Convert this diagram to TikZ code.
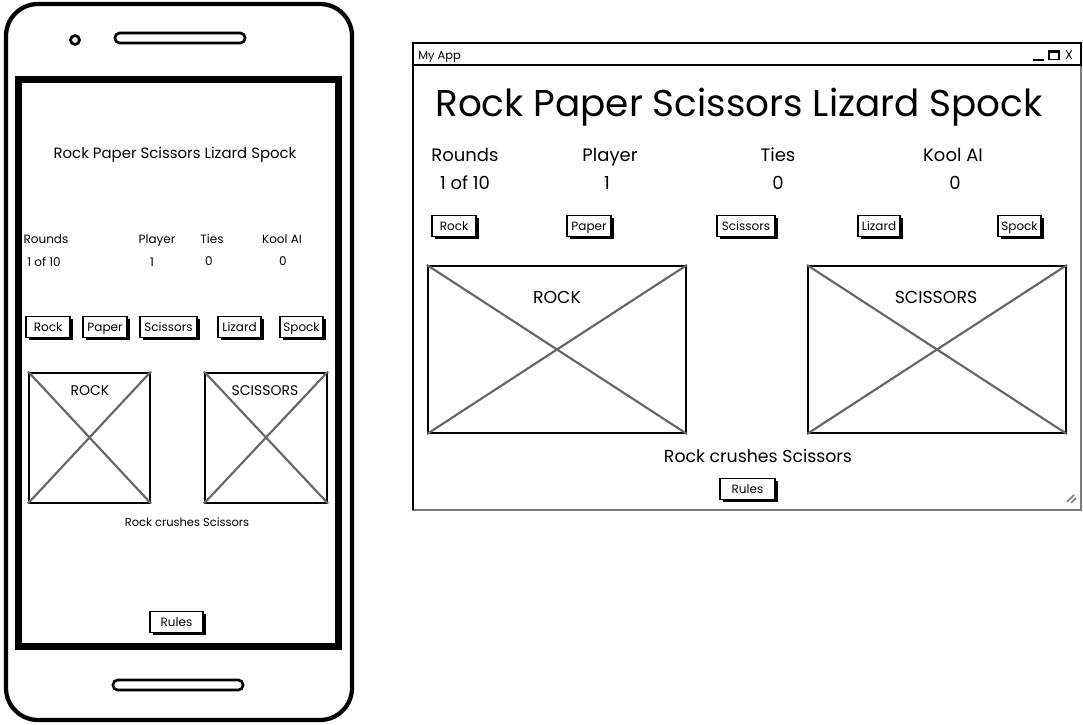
\documentclass[tikz,border=0pt]{standalone}
\usepackage{fontspec}
\setmainfont{Poppins}
\usetikzlibrary{shadows}
\definecolor{crossgray}{HTML}{666666}
\definecolor{wingray}{HTML}{7A7A7A}
\tikzset{
  btn/.style={draw=black, fill=white, line width=0.8pt, inner sep=0pt,
    minimum width=#1*0.75pt, minimum height=21*0.75pt,
    text height=0.8em, text depth=0.16em,
    drop shadow={shadow xshift=2pt, shadow yshift=-2pt, fill=black, opacity=1},
    font=\fontsize{9}{10}\selectfont},
  imgbox/.style={draw=black, line width=1.5pt, inner sep=0pt, fill=white},
  cross/.style={draw=crossgray, line width=1.6pt},
  txt/.style={inner sep=0pt, anchor=center, text height=0.92em, text depth=0em},
}
\begin{document}
\begin{tikzpicture}[x=0.75pt, y=-0.75pt]
\useasboundingbox (0,0) rectangle (1083,725);
\fill[white] (0,0) rectangle (1083,725);

% ---------------- phone ----------------
\node[draw=black, line width=3.2pt, rounded corners=24pt, minimum width=346*0.75pt, minimum height=716*0.75pt, inner sep=0pt] (phone) at (179,362) {};
\node[draw=black, circle, line width=2pt, minimum size=9*0.75pt, inner sep=0pt] (cam) at (75,40) {};
\node[draw=black, line width=2pt, rounded corners=3.5pt, minimum width=130*0.75pt, minimum height=10*0.75pt, inner sep=0pt] (spk1) at (180,38) {};
\node[draw=black, line width=2pt, rounded corners=3.5pt, minimum width=130*0.75pt, minimum height=10*0.75pt, inner sep=0pt] (spk2) at (178,685) {};
\node[draw=black, line width=5pt, minimum width=320*0.75pt, minimum height=567*0.75pt, inner sep=0pt] (screen) at (178.5,363) {};

\node[txt, font=\fontsize{11.2}{13}\selectfont] (ptitle) at (175,152.5) {Rock Paper Scissors Lizard Spock};
\begin{scope}[every node/.style={txt, font=\fontsize{9}{11}\selectfont}]
\node (prounds) at (46,237) {Rounds};
\node (pplayer) at (157,237) {Player};
\node (pties) at (212,237) {Ties};
\node (pkool) at (282,237) {Kool AI};
\node (pround) at (44,260) {1 of 10};
\node (pplv) at (152,260) {1};
\node (ptiv) at (209,259) {0};
\node (pkov) at (283,259) {0};
\end{scope}

\node[btn=44] (prock) at (48,327) {Rock};
\node[btn=44] (ppaper) at (105,327) {Paper};
\node[btn=57] (pscis) at (168.5,327) {Scissors};
\node[btn=43] (pliz) at (239.5,327) {Lizard};
\node[btn=43] (pspock) at (301.5,327) {Spock};

\node[imgbox, minimum width=121*0.75pt, minimum height=130*0.75pt] (pimg1) at (89.5,437.5) {};
\draw[cross] (pimg1.north west) -- (pimg1.south east) (pimg1.north east) -- (pimg1.south west);
\node[txt, font=\fontsize{10.5}{12}\selectfont] (pl1) at (90,389) {ROCK};
\node[imgbox, minimum width=122*0.75pt, minimum height=130*0.75pt] (pimg2) at (266,437.5) {};
\draw[cross] (pimg2.north west) -- (pimg2.south east) (pimg2.north east) -- (pimg2.south west);
\node[txt, fill=white, inner sep=1pt, font=\fontsize{10.5}{12}\selectfont] (pl2) at (265,389) {SCISSORS};
\node[txt, font=\fontsize{8.6}{10}\selectfont] (pmsg) at (187,520) {Rock crushes Scissors};
\node[btn=53] (prules) at (176.5,622) {Rules};

% ---------------- window ----------------
\node[draw=wingray, line width=2pt, minimum width=668*0.75pt, minimum height=467*0.75pt, inner sep=0pt, fill=white] (win) at (747,276.5) {};
\draw[black, line width=1.4pt] (413,510) -- (413,43) -- (1081,43) -- (1081,65) -- (413,65);
\node[txt, anchor=west, font=\fontsize{8.6}{10}\selectfont] (apptitle) at (418,53.5) {My App};
\draw[black, line width=1pt] (1033,60) -- (1044,60);
\node[draw=black, line width=1pt, minimum width=10*0.75pt, minimum height=9*0.75pt, inner sep=0pt] (maxbox) at (1054,55) {};
\draw[black, line width=2pt] (1049,51.5) -- (1059,51.5);
\node[txt, font=\fontsize{9.5}{10}\selectfont] (closex) at (1069,53.5) {X};
\draw[wingray, line width=1.2pt] (1067,502) -- (1074,495) (1071,503) -- (1076,498);

\node[txt, font=\fontsize{28}{32}\selectfont] (wtitle) at (739,110) {Rock Paper Scissors Lizard Spock};
\begin{scope}[every node/.style={txt, font=\fontsize{13.5}{16}\selectfont}]
\node (wrounds) at (465,155) {Rounds};
\node (wplayer) at (610,155) {Player};
\node (wties) at (778,155) {Ties};
\node (wkool) at (953,155) {Kool AI};
\node (wround) at (465,183) {1 of 10};
\node (wplv) at (607,183) {1};
\node (wtiv) at (778,183) {0};
\node (wkov) at (955,183) {0};
\end{scope}

\node[btn=44] (wrock) at (454,226) {Rock};
\node[btn=44] (wpaper) at (589,226) {Paper};
\node[btn=58] (wscis) at (746,226) {Scissors};
\node[btn=42] (wliz) at (879,226) {Lizard};
\node[btn=43] (wspock) at (1019.5,226) {Spock};

\node[imgbox, minimum width=258*0.75pt, minimum height=167*0.75pt] (wimg1) at (557,349.5) {};
\draw[cross] (wimg1.north west) -- (wimg1.south east) (wimg1.north east) -- (wimg1.south west);
\node[txt, fill=white, inner sep=1pt, font=\fontsize{13}{15}\selectfont] (wl1) at (557,297) {ROCK};
\node[imgbox, minimum width=258*0.75pt, minimum height=167*0.75pt] (wimg2) at (937,349.5) {};
\draw[cross] (wimg2.north west) -- (wimg2.south east) (wimg2.north east) -- (wimg2.south west);
\node[txt, fill=white, inner sep=1pt, font=\fontsize{13}{15}\selectfont] (wl2) at (936,297) {SCISSORS};
\node[txt, font=\fontsize{13}{15}\selectfont] (wmsg) at (758,456) {Rock crushes Scissors};
\node[btn=55] (wrules) at (747.5,489) {Rules};
\end{tikzpicture}
\end{document}
